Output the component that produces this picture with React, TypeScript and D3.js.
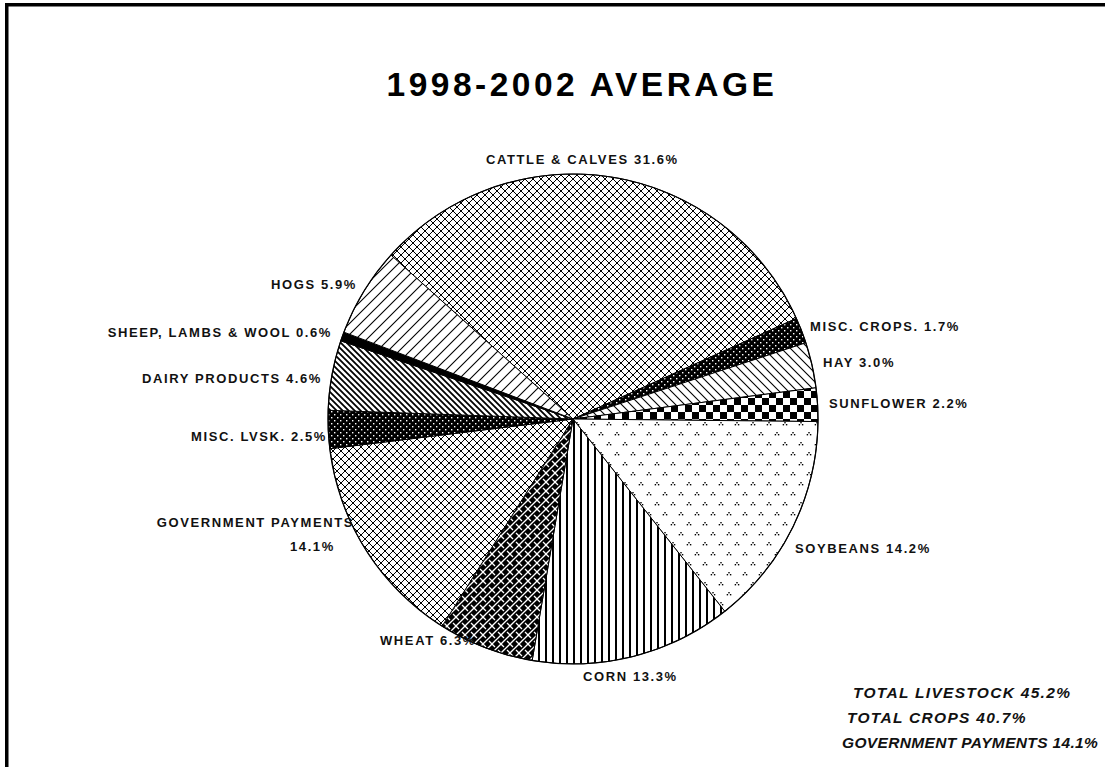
import React from "react";
import * as d3 from "d3";

// ---- data ----
const categories = [
  "CATTLE & CALVES",
  "MISC. CROPS.",
  "HAY",
  "SUNFLOWER",
  "SOYBEANS",
  "CORN",
  "WHEAT",
  "GOVERNMENT PAYMENTS",
  "MISC. LVSK.",
  "DAIRY PRODUCTS",
  "SHEEP, LAMBS & WOOL",
  "HOGS",
];
const shares = [31.6, 1.7, 3.0, 2.2, 14.2, 13.3, 6.3, 14.1, 2.5, 4.6, 0.6, 5.9];
const totalLabels = ["TOTAL LIVESTOCK", "TOTAL CROPS", "GOVERNMENT PAYMENTS"];
const totalValues = [45.2, 40.7, 14.1];
const title = "1998-2002 AVERAGE";

// ---- styles / layout ----
const fills = [
  "url(#p-cross)",
  "url(#p-dots)",
  "url(#p-hay)",
  "url(#p-checker)",
  "url(#p-soy)",
  "url(#p-corn)",
  "url(#p-weave)",
  "url(#p-cross2)",
  "url(#p-dots)",
  "url(#p-dairy)",
  "#000",
  "url(#p-hogs)",
];
type LL = { x: number; y: number; anchor: "start" | "end"; x2?: number; y2?: number };
const labelLayout: LL[] = [
  { x: 486, y: 164, anchor: "start" },
  { x: 810, y: 331, anchor: "start" },
  { x: 823, y: 367, anchor: "start" },
  { x: 829, y: 408, anchor: "start" },
  { x: 795, y: 553, anchor: "start" },
  { x: 583, y: 681, anchor: "start" },
  { x: 380, y: 645, anchor: "start" },
  { x: 354, y: 527, anchor: "end", x2: 290, y2: 551 },
  { x: 327, y: 441, anchor: "end" },
  { x: 322, y: 383, anchor: "end" },
  { x: 332, y: 337, anchor: "end" },
  { x: 357, y: 289, anchor: "end" },
];
const totalLayout = [
  { x: 853, y: 698, ls: 1.3 },
  { x: 847, y: 723, ls: 1.3 },
  { x: 842, y: 748, ls: 0.35 },
];

const W = 1105;
const H = 767;
const cx = 573;
const cy = 419;
const R = 245;
const startDeg = -48;
const FONT = "'Liberation Sans', Arial, sans-serif";

export default function App() {
  const start = (startDeg * Math.PI) / 180;
  const pie = d3
    .pie<number>()
    .sort(null)
    .value((d) => d)
    .startAngle(start)
    .endAngle(start + 2 * Math.PI);
  const arcs = pie(shares);
  const arc = d3.arc<d3.PieArcDatum<number>>().innerRadius(0).outerRadius(R);

  return (
    <svg
      width={W}
      height={H}
      viewBox={`0 0 ${W} ${H}`}
      style={{ position: "absolute", left: 0, top: 0, background: "#fff" }}
    >
      <defs>
        <pattern id="p-cross" width={8} height={8} patternUnits="userSpaceOnUse">
          <rect width={8} height={8} fill="#fff" />
          <path d="M0,0L8,8M8,0L0,8" stroke="#000" strokeWidth={1} />
        </pattern>
        <pattern id="p-cross2" width={8} height={8} patternUnits="userSpaceOnUse">
          <rect width={8} height={8} fill="#fff" />
          <path d="M0,0L8,8M8,0L0,8" stroke="#000" strokeWidth={1} />
        </pattern>
        <pattern id="p-dots" width={6} height={6} patternUnits="userSpaceOnUse">
          <rect width={6} height={6} fill="#000" />
          <rect x={1} y={1} width={1.4} height={1.4} fill="#fff" />
          <rect x={4} y={4} width={1.4} height={1.4} fill="#fff" />
        </pattern>
        <pattern id="p-hay" width={9} height={9} patternUnits="userSpaceOnUse">
          <rect width={9} height={9} fill="#fff" />
          <path d="M0,0L9,9M-1,8L1,10M8,-1L10,1" stroke="#000" strokeWidth={1.1} />
        </pattern>
        <pattern id="p-hogs" width={11} height={11} patternUnits="userSpaceOnUse">
          <rect width={11} height={11} fill="#fff" />
          <path d="M0,11L11,0M-1,1L1,-1M10,12L12,10" stroke="#000" strokeWidth={1.1} />
        </pattern>
        <pattern id="p-dairy" width={6} height={6} patternUnits="userSpaceOnUse">
          <rect width={6} height={6} fill="#fff" />
          <path d="M0,0L6,6M-1,5L1,7M5,-1L7,1" stroke="#000" strokeWidth={1.8} />
        </pattern>
        <pattern id="p-checker" width={14} height={14} patternUnits="userSpaceOnUse">
          <rect width={14} height={14} fill="#fff" />
          <rect x={0} y={0} width={7} height={7} fill="#000" />
          <rect x={7} y={7} width={7} height={7} fill="#000" />
        </pattern>
        <pattern id="p-soy" width={16} height={20} patternUnits="userSpaceOnUse">
          <rect width={16} height={20} fill="#fff" />
          {[
            [4, 5],
            [12, 15],
          ].map(([x, y], i) => (
            <g key={i} fill="#000">
              <rect x={x - 0.7} y={y - 2} width={1.4} height={1.4} />
              <rect x={x - 2.3} y={y} width={1.4} height={1.4} />
              <rect x={x + 0.9} y={y} width={1.4} height={1.4} />
            </g>
          ))}
        </pattern>
        <pattern id="p-corn" width={7} height={10} patternUnits="userSpaceOnUse">
          <rect width={7} height={10} fill="#fff" />
          <rect x={0} y={0} width={2} height={10} fill="#000" />
        </pattern>
        <pattern id="p-weave" width={9} height={9} patternUnits="userSpaceOnUse">
          <rect width={9} height={9} fill="#000" />
          <path d="M0,9L9,0" stroke="#fff" strokeWidth={1.3} />
          <path d="M0,0L3,3M6,6L9,9" stroke="#fff" strokeWidth={1.3} />
        </pattern>
      </defs>

      <rect x={0} y={0} width={W} height={H} fill="#fff" />
      {/* frame */}
      <path d={`M6.75,${H + 5}V4.75H${W + 5}`} fill="none" stroke="#000" strokeWidth={3.5} />

      <text
        x={582}
        y={96}
        textAnchor="middle"
        fontFamily={FONT}
        fontWeight="bold"
        fontSize={33.5}
        letterSpacing={3.5}
        fill="#000"
      >
        {title}
      </text>

      <g transform={`translate(${cx},${cy})`}>
        {arcs.map((a, i) => (
          <path
            key={i}
            d={arc(a) || ""}
            fill={fills[i]}
            stroke="#000"
            strokeWidth={1}
            strokeLinejoin="round"
          />
        ))}
        <circle r={R} fill="none" stroke="#000" strokeWidth={1.2} />
      </g>

      <g fontFamily={FONT} fontWeight="bold" fontSize={13} letterSpacing={1.6} fill="#111">
        {categories.map((c, i) => {
          const L = labelLayout[i];
          const pct = `${shares[i].toFixed(1)}%`;
          if (L.x2 !== undefined) {
            return (
              <g key={i}>
                <text x={L.x} y={L.y} textAnchor={L.anchor}>
                  {c}
                </text>
                <text x={L.x2} y={L.y2}>
                  {pct}
                </text>
              </g>
            );
          }
          return (
            <text key={i} x={L.x} y={L.y} textAnchor={L.anchor}>
              {`${c} ${pct}`}
            </text>
          );
        })}
      </g>

      <g fontFamily={FONT} fontWeight="bold" fontStyle="italic" fontSize={15.5} fill="#111">
        {totalLabels.map((t, i) => (
          <text key={i} x={totalLayout[i].x} y={totalLayout[i].y} letterSpacing={totalLayout[i].ls}>
            {`${t} ${totalValues[i].toFixed(1)}%`}
          </text>
        ))}
      </g>
    </svg>
  );
}
